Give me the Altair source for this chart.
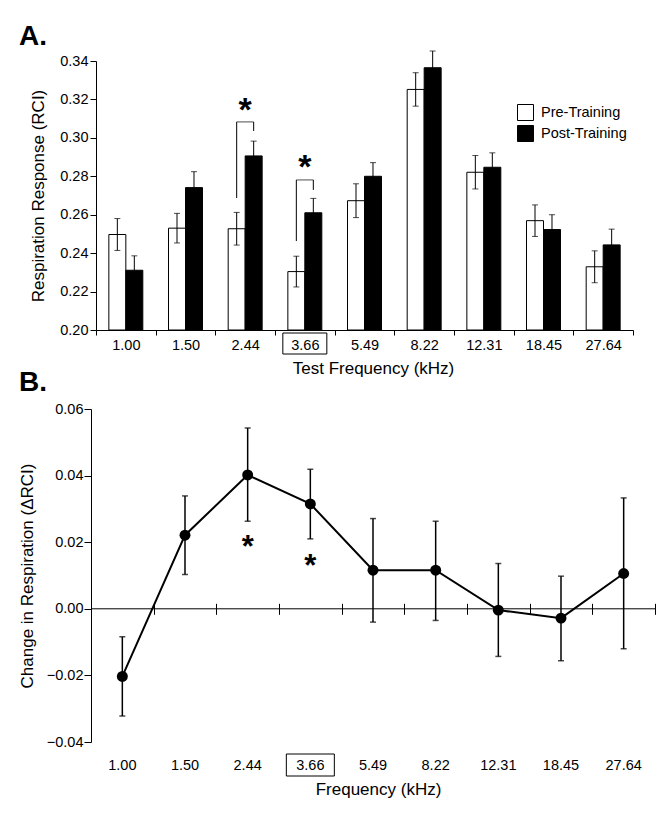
import altair as alt
import pandas as pd

FONT = "Liberation Sans"

# ---------------- data ----------------
freqs = ["1.00", "1.50", "2.44", "3.66", "5.49", "8.22", "12.31", "18.45", "27.64"]
groups = ["Pre-Training", "Post-Training"]

pre_mean = [0.2497, 0.2530, 0.2527, 0.2304, 0.2673, 0.3252, 0.2821, 0.2569, 0.2329]
pre_sem = [0.0083, 0.0077, 0.0085, 0.0080, 0.0088, 0.0087, 0.0087, 0.0082, 0.0083]
post_mean = [0.2311, 0.2741, 0.2906, 0.2610, 0.2800, 0.3365, 0.2847, 0.2523, 0.2443]
post_sem = [0.0075, 0.0083, 0.0077, 0.0075, 0.0071, 0.0087, 0.0075, 0.0077, 0.0082]

delta_mean = [-0.0203, 0.0221, 0.0402, 0.0315, 0.0116, 0.0116, -0.0004, -0.0028, 0.0106]
delta_hi = [-0.0084, 0.0339, 0.0543, 0.0419, 0.0271, 0.0263, 0.0136, 0.0098, 0.0333]
delta_lo = [-0.0322, 0.0103, 0.0263, 0.0210, -0.0040, -0.0035, -0.0143, -0.0156, -0.0120]

sig_freqs = ["2.44", "3.66"]
bracket_top = [0.3083, 0.2781]
bracket_pre_end = [0.2687, 0.2463]
bracket_post_end = [0.3036, 0.2729]
star_a = [0.3187, 0.2890]
star_b = [0.0207, 0.0150]
trained_freq = "3.66"

ticks_a = [0.20, 0.22, 0.24, 0.26, 0.28, 0.30, 0.32, 0.34]
ticks_b = [-0.04, -0.02, 0.00, 0.02, 0.04, 0.06]

# ---------------- tables ----------------
rows = []
for i, f in enumerate(freqs):
    rows.append({"freq": f, "group": groups[0], "mean": pre_mean[i],
                 "lo": pre_mean[i] - pre_sem[i], "hi": pre_mean[i] + pre_sem[i]})
    rows.append({"freq": f, "group": groups[1], "mean": post_mean[i],
                 "lo": post_mean[i] - post_sem[i], "hi": post_mean[i] + post_sem[i]})
bars_df = pd.DataFrame(rows)

br_df = pd.DataFrame({"freq": sig_freqs, "top": bracket_top, "pre_end": bracket_pre_end,
                      "post_end": bracket_post_end, "star_a": star_a, "star_b": star_b,
                      "g_pre": groups[0], "g_post": groups[1]})
delta_df = pd.DataFrame({"freq": freqs, "d": delta_mean, "lo": delta_lo, "hi": delta_hi})
box_df = pd.DataFrame({"freq": [trained_freq]})

# ---------------- panel A ----------------
# panel A's plotting range starts 5px right of the shared left edge of both panels
SHIFT = 5
WA, HA = 537 + SHIFT, 269
x_scale_a = alt.Scale(domain=freqs, paddingInner=0, paddingOuter=0, range=[SHIFT, WA])
xa_axis = alt.Axis(title="Test Frequency (kHz)", tickBand="extent", labelAngle=0,
                   tickSize=5, labelPadding=3, titlePadding=9, titleX=282,
                   labelFontSize=14.5, titleFontSize=17)
xa = alt.X("freq:N", sort=freqs, scale=x_scale_a, axis=xa_axis)
xo_scale = alt.Scale(domain=groups, paddingInner=0, paddingOuter=0.756)
ya_scale = alt.Scale(domain=[0.2, 0.34], nice=False, zero=False)
ya_axis = alt.Axis(title="Respiration Response (RCI)", values=ticks_a, format=".2f",
                   tickSize=6, labelPadding=2, titlePadding=12, offset=-SHIFT,
                   labelFontSize=14.5, titleFontSize=17)

def ya(field):
    return alt.Y(field, scale=ya_scale, axis=ya_axis)

bars = alt.Chart(bars_df).mark_bar(stroke="black", strokeWidth=1).encode(
    x=xa,
    xOffset=alt.XOffset("group:N", sort=groups, scale=xo_scale),
    y=ya("mean:Q"),
    y2=alt.datum(0.2),
    fill=alt.Fill("group:N", sort=groups,
                  scale=alt.Scale(domain=groups, range=["white", "black"]),
                  legend=alt.Legend(title=None, orient="none", legendX=426, legendY=43,
                                    symbolType="square", symbolSize=256,
                                    symbolStrokeColor="black", symbolStrokeWidth=1,
                                    labelFontSize=14.5, labelFont=FONT, labelColor="black",
                                    labelOffset=7, rowPadding=0, padding=0, offset=0)),
)
err_a = alt.Chart(bars_df).mark_rule(color="black", strokeWidth=1).encode(
    x=xa, xOffset=alt.XOffset("group:N", sort=groups, scale=xo_scale),
    y=ya("lo:Q"), y2="hi:Q")
cap_hi_a = alt.Chart(bars_df).mark_tick(color="black", size=6, thickness=1).encode(
    x=xa, xOffset=alt.XOffset("group:N", sort=groups, scale=xo_scale), y=ya("hi:Q"))
cap_lo_a = alt.Chart(bars_df).mark_tick(color="black", size=6, thickness=1).encode(
    x=xa, xOffset=alt.XOffset("group:N", sort=groups, scale=xo_scale), y=ya("lo:Q"))

leg_pre = alt.Chart(br_df).mark_rule(color="black", strokeWidth=1).encode(
    x=xa, xOffset=alt.XOffset("g_pre:N", scale=xo_scale), y=ya("top:Q"), y2="pre_end:Q")
leg_post = alt.Chart(br_df).mark_rule(color="black", strokeWidth=1).encode(
    x=xa, xOffset=alt.XOffset("g_post:N", scale=xo_scale), y=ya("top:Q"), y2="post_end:Q")
bracket_h = alt.Chart(br_df).mark_tick(color="black", size=17, thickness=1).encode(
    x=xa, y=ya("top:Q"))
stars_a = alt.Chart(br_df).mark_text(text="*", fontSize=34, fontWeight="bold", font=FONT,
                                     color="black", baseline="alphabetic", dy=19).encode(
    x=xa, y=ya("star_a:Q"))
box_a = alt.Chart(box_df).mark_bar(width=44, fillOpacity=0, stroke="black",
                                   strokeWidth=1).encode(
    x=xa, y=alt.value(HA + 3), y2=alt.value(HA + 24))

panel_a = alt.layer(bars, err_a, cap_hi_a, cap_lo_a, leg_pre, leg_post, bracket_h,
                    stars_a, box_a).properties(
    width=WA, height=HA,
    title=alt.TitleParams("A.", anchor="start", frame="group", dx=-72, fontSize=28,
                          fontWeight="bold", font=FONT, color="black", offset=0))

# ---------------- panel B ----------------
WB, HB = 564, 333
zero_px = HB * 0.06 / 0.10
x_scale_b = alt.Scale(domain=freqs, paddingInner=0, paddingOuter=0)
xb_label_axis = alt.Axis(orient="bottom", title="Frequency (kHz)", domain=False, ticks=False,
                         tickSize=0, labelPadding=16, labelAngle=0, titlePadding=10,
                         titleX=287, labelFontSize=14.5, titleFontSize=17)
xb_tick_axis = alt.Axis(orient="bottom", title=None, labels=False, domain=False,
                        tickBand="extent", tickSize=11, offset=zero_px - 5.5 - HB)
yb_scale = alt.Scale(domain=[-0.04, 0.06], nice=False, zero=False)
yb_axis = alt.Axis(title="Change in Respiration (\u0394RCI)", values=ticks_b, format=".2f",
                   tickSize=7, labelPadding=1, titlePadding=9.5,
                   labelFontSize=14.5, titleFontSize=17)

def yb(field):
    return alt.Y(field, scale=yb_scale, axis=yb_axis)

def xb(axis=None):
    return alt.X("freq:N", sort=freqs, scale=x_scale_b, axis=axis)

zero_line = alt.Chart(pd.DataFrame({"z": [0.0]})).mark_rule(color="black", strokeWidth=1).encode(
    y=yb("z:Q"))
err_b = alt.Chart(delta_df).mark_rule(color="black", strokeWidth=1.5).encode(
    x=xb(xb_tick_axis), y=yb("lo:Q"), y2="hi:Q")
cap_hi_b = alt.Chart(delta_df).mark_tick(color="black", size=6, thickness=1.5).encode(
    x=xb(), y=yb("hi:Q"))
cap_lo_b = alt.Chart(delta_df).mark_tick(color="black", size=6, thickness=1.5).encode(
    x=xb(), y=yb("lo:Q"))
line_b = alt.Chart(delta_df).mark_line(color="black", strokeWidth=2).encode(
    x=xb(xb_label_axis), y=yb("d:Q"))
pts_b = alt.Chart(delta_df).mark_circle(color="black", size=120, opacity=1).encode(
    x=xb(), y=yb("d:Q"))
stars_b = alt.Chart(br_df).mark_text(text="*", fontSize=31, fontWeight="bold", font=FONT,
                                     color="black", baseline="alphabetic", dy=17).encode(
    x=xb(), y=yb("star_b:Q"))
box_b = alt.Chart(box_df).mark_bar(width=48, fillOpacity=0, stroke="black",
                                   strokeWidth=1).encode(
    x=xb(), y=alt.value(HB + 12), y2=alt.value(HB + 34))

panel_b = alt.layer(zero_line, err_b, cap_hi_b, cap_lo_b, line_b, pts_b, stars_b,
                    box_b).resolve_axis(x="independent").properties(
    width=WB, height=HB,
    title=alt.TitleParams("B.", anchor="start", frame="group", dx=-72, fontSize=28,
                          fontWeight="bold", font=FONT, color="black", offset=4))

chart = alt.vconcat(panel_a, panel_b, spacing=-8).properties(
    padding={"left": 10, "top": 14, "right": 5, "bottom": 5}
).configure_view(stroke=None).configure_axis(
    labelFont=FONT, titleFont=FONT, labelColor="black", titleColor="black",
    domainColor="black", tickColor="black", grid=False, titleFontWeight="normal",
    domainWidth=1, tickWidth=1
)

chart.save("out.html", embed_options={"renderer": "svg", "actions": False})
